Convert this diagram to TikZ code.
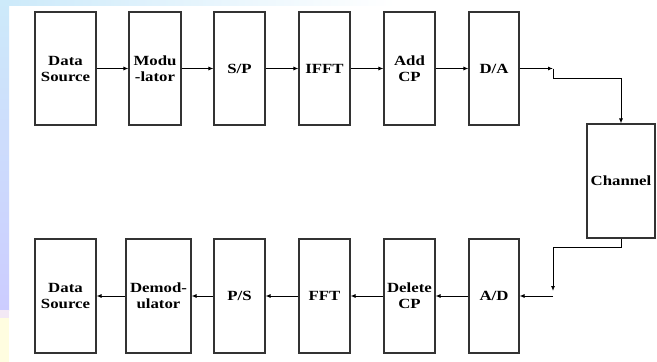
\documentclass[tikz,border=0pt]{standalone}
\usepackage{fontspec}
\setmainfont[FakeStretch=1.2]{Liberation Serif}
\usetikzlibrary{arrows.meta}
\definecolor{edge}{HTML}{333333}
\definecolor{bgcyan}{HTML}{CDEAFA}
\definecolor{bglav}{HTML}{CCCCFF}
\definecolor{bgyel}{HTML}{FFFDE0}
\tikzset{
  blk/.style={draw=edge, line width=1.1pt, rectangle, inner sep=0pt, align=center,
    font=\bfseries\fontsize{14}{16}\selectfont, text=black},
  conn/.style={draw=black, line width=0.9pt},
  arr/.style={conn, -{Latex[length=5pt,width=4pt]}}
}
\begin{document}
\begin{tikzpicture}[x=1pt,y=-1pt]
\useasboundingbox (0,0) rectangle (657,362);
% background decoration
\fill[white] (0,0) rectangle (657,362);
\shade[top color=bgcyan, bottom color=bglav] (0,0) rectangle (9,310);
\fill[bgyel] (0,318) rectangle (9,362);
\fill[bglav!60!pink!40] (0,310) rectangle (9,318);
\shade[left color=bgcyan, right color=white] (9,0) rectangle (395,5);
% top row
\node[blk, minimum width=61pt, minimum height=113pt] (ds1) at (65.5,68.5) {Data\\Source};
\node[blk, minimum width=52pt, minimum height=113pt] (mod) at (155,68.5) {Modu\\-lator};
\node[blk, minimum width=51pt, minimum height=113pt] (sp) at (239.5,68.5) {S/P};
\node[blk, minimum width=51pt, minimum height=113pt] (ifft) at (324.5,68.5) {IFFT};
\node[blk, minimum width=51pt, minimum height=113pt] (acp) at (409.5,68.5) {Add\\CP};
\node[blk, minimum width=50pt, minimum height=113pt] (da) at (494,68.5) {D/A};
% channel
\node[blk, minimum width=68pt, minimum height=114pt] (ch) at (621,181) {Channel};
% bottom row
\node[blk, minimum width=61pt, minimum height=114pt] (ds2) at (65.5,296) {Data\\Source};
\node[blk, minimum width=65pt, minimum height=114pt] (dem) at (158.5,296) {Demod-\\ulator};
\node[blk, minimum width=51pt, minimum height=114pt] (ps) at (239.5,296) {P/S};
\node[blk, minimum width=51pt, minimum height=114pt] (fft) at (324.5,296) {FFT};
\node[blk, minimum width=51pt, minimum height=114pt] (dcp) at (409.5,296) {Delete\\CP};
\node[blk, minimum width=50pt, minimum height=114pt] (ad) at (494,296) {A/D};
% helper coordinates
\coordinate (c1) at (553,68.5);
\coordinate (c2) at (553,78);
\coordinate (c3) at (621,78);
\coordinate (c4) at (621,247);
\coordinate (c5) at (553,247);
\coordinate (c6) at (553,291);
\coordinate (c7) at (553,296);
% connectors
\draw[arr] (ds1) -- (mod);
\draw[arr] (mod) -- (sp);
\draw[arr] (sp) -- (ifft);
\draw[arr] (ifft) -- (acp);
\draw[arr] (acp) -- (da);
\draw[arr] (da) -- (c1);
\draw[arr] (c1) -- (c2) -- (c3) -- (ch.north);
\draw[arr] (ch.south) -- (c4) -- (c5) -- (c6);
\draw[arr] (c7) -- (ad);
\draw[arr] (ad) -- (dcp);
\draw[arr] (dcp) -- (fft);
\draw[arr] (fft) -- (ps);
\draw[arr] (ps) -- (dem);
\draw[arr] (dem) -- (ds2);
\end{tikzpicture}
\end{document}
